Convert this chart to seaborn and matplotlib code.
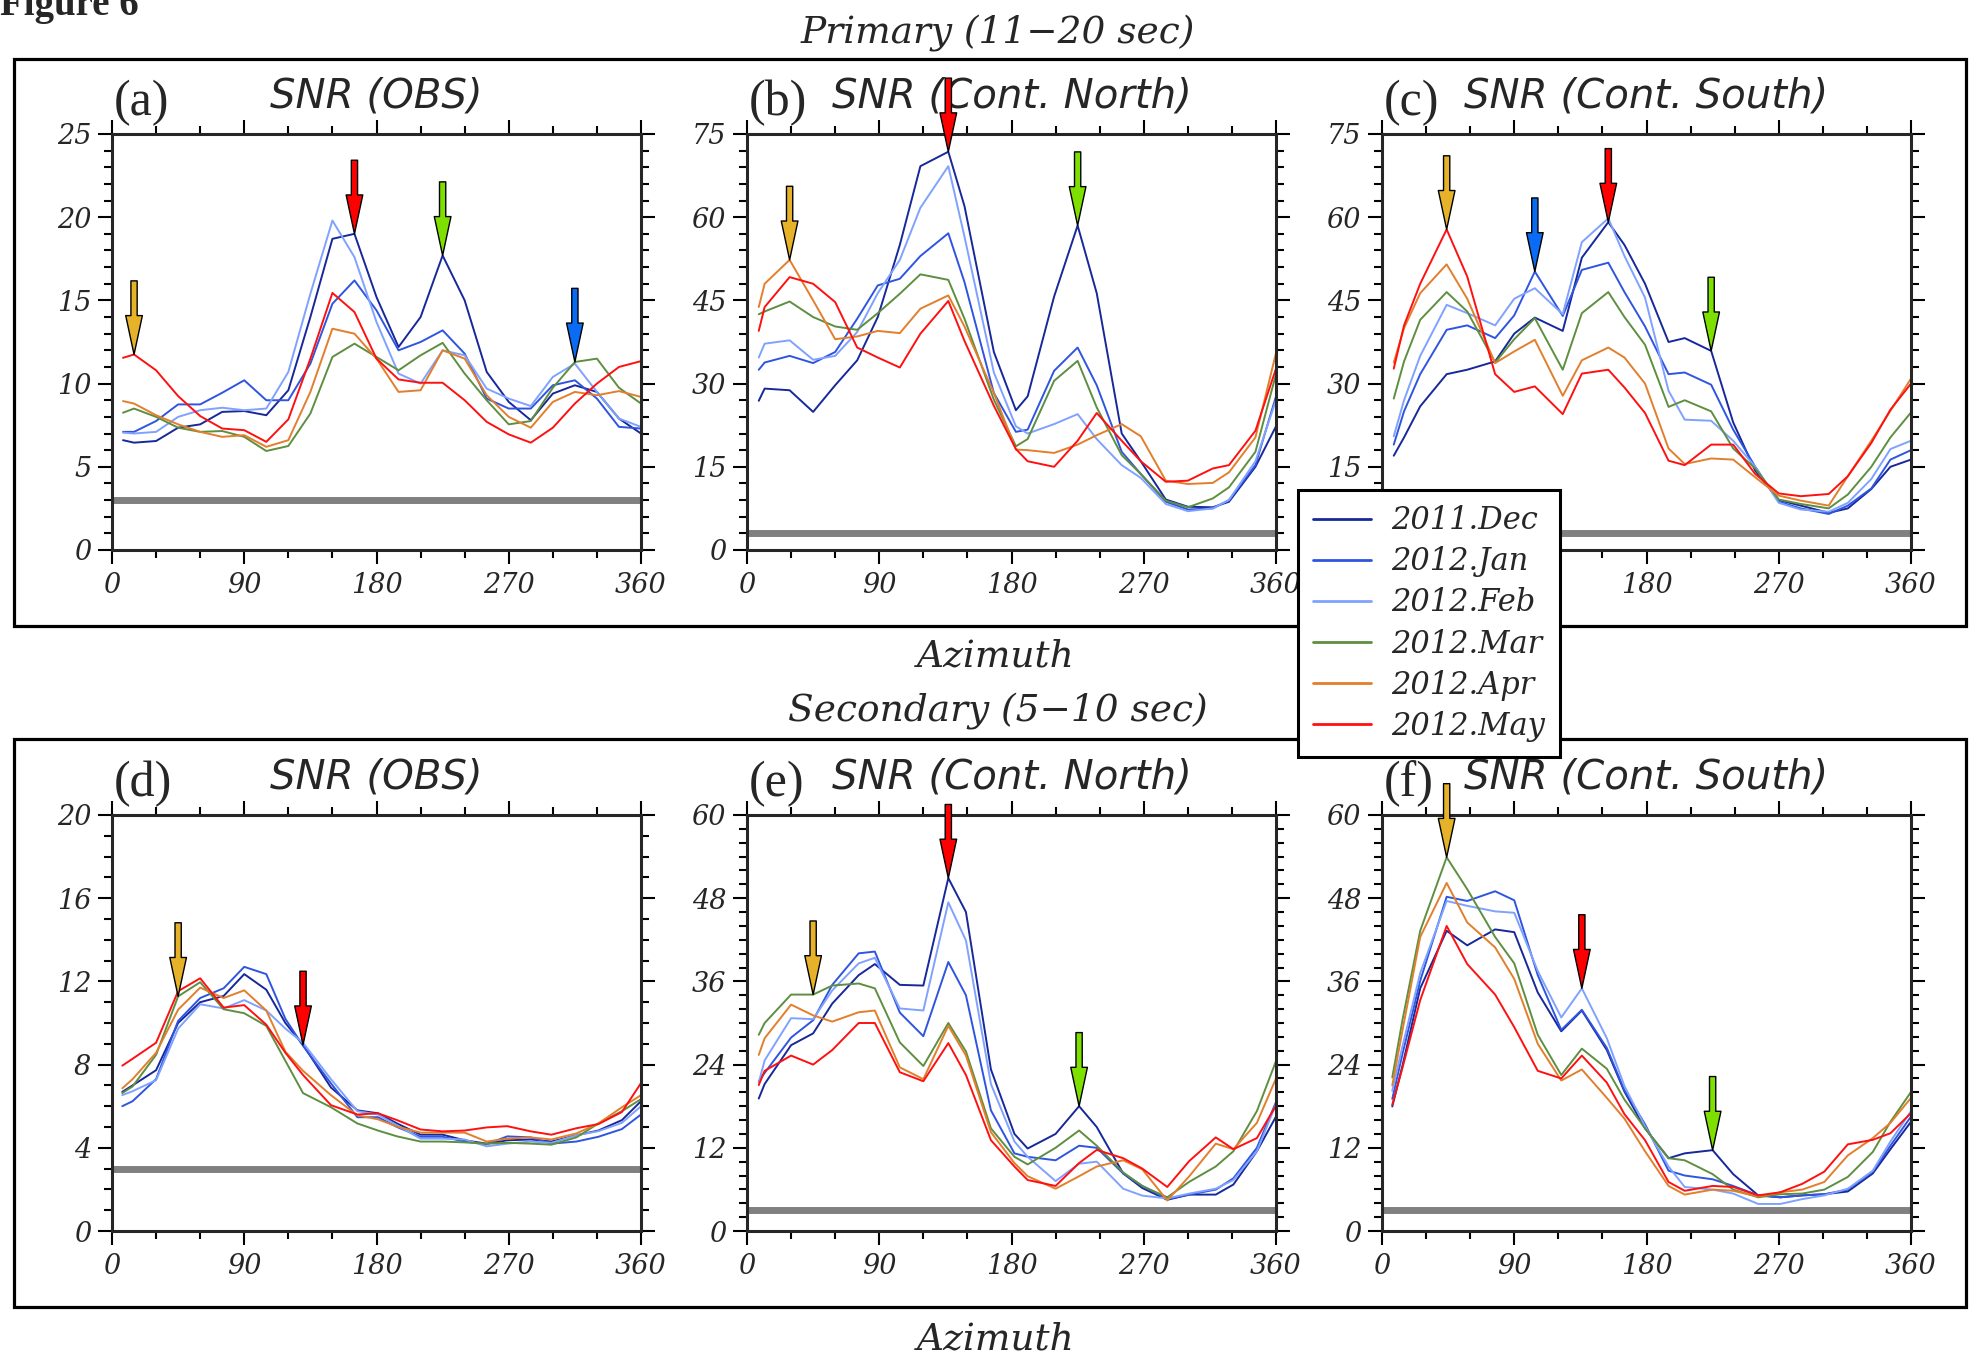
import numpy as np
import pandas as pd
import matplotlib
matplotlib.use("Agg")
import matplotlib.pyplot as plt
import seaborn as sns
from matplotlib.lines import Line2D
from matplotlib.patches import Rectangle
from matplotlib.ticker import MultipleLocator

# ---------------- data ----------------
months = ["2011.Dec", "2012.Jan", "2012.Feb", "2012.Mar", "2012.Apr", "2012.May"]
month_colors = ["#16289a", "#2f55e0", "#80a2ff", "#5e8f40", "#e27f2c", "#ff1010"]
snr_threshold = 3

# (a) Primary, OBS
az_a = [7.5, 15, 30, 45, 60, 75, 90, 105, 120, 135, 150, 165, 180, 195, 210, 225, 240, 255, 270, 285, 300, 315, 330, 345, 360]
a_dec = [6.6, 6.45, 6.55, 7.35, 7.55, 8.3, 8.35, 8.1, 9.6, 14.0, 18.7, 19.0, 15.2, 12.2, 14.0, 17.7, 15.0, 10.7, 8.9, 7.8, 9.4, 9.9, 9.5, 7.9, 7.0]
a_jan = [7.1, 7.1, 7.75, 8.75, 8.75, 9.45, 10.2, 9.0, 9.0, 11.2, 14.8, 16.2, 14.4, 12.0, 12.5, 13.2, 11.8, 9.1, 8.5, 8.5, 9.9, 10.2, 9.1, 7.4, 7.3]
a_feb = [7.05, 7.0, 7.1, 8.0, 8.4, 8.55, 8.4, 8.5, 10.7, 15.4, 19.8, 17.6, 13.7, 10.6, 10.0, 12.0, 11.7, 9.7, 9.1, 8.65, 10.4, 11.2, 9.5, 7.9, 7.4]
a_mar = [8.25, 8.5, 8.0, 7.35, 7.1, 7.15, 6.8, 5.95, 6.25, 8.2, 11.6, 12.4, 11.6, 10.8, 11.7, 12.45, 10.6, 9.0, 7.55, 7.75, 9.75, 11.3, 11.5, 9.75, 8.8]
a_apr = [8.95, 8.8, 8.1, 7.55, 7.1, 6.8, 6.9, 6.2, 6.6, 9.5, 13.3, 13.0, 11.5, 9.5, 9.6, 12.0, 11.5, 9.3, 8.0, 7.35, 8.9, 9.5, 9.3, 9.55, 9.2]
a_may = [11.55, 11.75, 10.8, 9.25, 8.05, 7.3, 7.2, 6.5, 7.85, 11.5, 15.45, 14.3, 11.5, 10.25, 10.05, 10.05, 9.0, 7.7, 6.95, 6.45, 7.35, 8.8, 10.0, 11.0, 11.35]

# (b) Primary, Cont. North
az_b = [8, 12, 29, 45, 60, 75, 89, 104, 118, 137, 148, 168, 183, 191, 209, 225, 238, 255, 268, 285, 300, 317, 328, 346, 360]
b_dec = [26.9, 29.1, 28.8, 24.9, 29.7, 34.2, 42.0, 55.0, 69.2, 71.8, 62.0, 35.7, 25.2, 27.7, 45.7, 58.5, 46.3, 21.0, 16.0, 9.1, 7.8, 7.7, 8.7, 15.0, 22.3]
b_jan = [32.5, 33.8, 35.0, 33.7, 35.7, 41.7, 47.7, 48.9, 53.0, 57.1, 48.3, 28.3, 21.3, 21.7, 32.3, 36.5, 29.7, 17.7, 13.7, 8.7, 7.3, 7.5, 9.0, 15.3, 27.7]
b_feb = [34.7, 37.2, 37.8, 34.3, 35.0, 39.3, 46.3, 52.3, 61.7, 69.2, 56.5, 32.0, 22.3, 21.0, 22.7, 24.5, 20.0, 15.3, 13.0, 8.3, 7.0, 7.5, 9.0, 16.0, 27.0]
b_mar = [42.5, 43.0, 44.8, 42.0, 40.3, 39.7, 42.7, 46.2, 49.7, 48.7, 41.7, 27.1, 18.7, 20.0, 30.5, 34.1, 25.7, 17.1, 13.7, 8.9, 7.7, 9.3, 11.3, 17.7, 31.7]
b_apr = [43.8, 48.0, 52.3, 45.0, 38.0, 38.5, 39.5, 39.1, 43.5, 45.9, 40.3, 28.3, 18.1, 18.0, 17.5, 19.0, 20.7, 22.7, 20.5, 12.5, 11.9, 12.1, 14.0, 20.3, 35.5]
b_may = [39.5, 43.8, 49.2, 48.0, 44.7, 36.5, 34.7, 32.9, 39.0, 44.9, 37.7, 26.0, 18.2, 16.0, 15.0, 19.7, 24.7, 19.7, 16.0, 12.3, 12.5, 14.7, 15.3, 21.5, 32.7]

# (c) Primary, Cont. South
az_c = [8, 15, 26, 44, 58, 77, 90, 104, 123, 136, 154, 165, 179, 195, 206, 224, 239, 254, 270, 285, 304, 317, 333, 346, 360]
c_dec = [17.0, 20.3, 25.9, 31.7, 32.5, 34.0, 39.0, 41.9, 39.5, 52.7, 59.1, 55.0, 48.0, 37.5, 38.2, 35.9, 23.0, 14.3, 9.0, 8.0, 6.7, 7.5, 11.0, 15.0, 16.3]
c_jan = [19.0, 25.0, 31.7, 39.7, 40.5, 38.2, 42.3, 50.2, 42.2, 50.5, 51.8, 46.5, 40.3, 31.7, 32.0, 29.8, 21.7, 15.0, 8.7, 7.5, 6.5, 8.0, 11.1, 16.3, 18.0]
c_feb = [20.5, 27.0, 35.0, 44.2, 42.7, 40.5, 45.3, 47.2, 42.5, 55.5, 59.8, 53.0, 45.5, 28.7, 23.5, 23.3, 19.7, 15.0, 8.5, 7.3, 6.9, 8.5, 12.8, 18.2, 19.7]
c_mar = [27.3, 34.0, 41.5, 46.5, 43.0, 33.8, 38.0, 41.8, 32.5, 42.7, 46.5, 42.0, 37.0, 25.8, 27.0, 25.0, 18.3, 14.7, 9.1, 8.3, 7.5, 10.0, 15.0, 20.3, 24.8]
c_apr = [33.8, 40.0, 46.3, 51.5, 45.3, 33.7, 35.8, 37.9, 27.8, 34.2, 36.5, 34.7, 30.0, 18.3, 15.5, 16.5, 16.3, 13.1, 9.8, 8.9, 8.0, 13.3, 19.7, 25.1, 30.9]
c_may = [32.7, 40.5, 48.0, 57.8, 49.3, 31.7, 28.5, 29.5, 24.5, 31.8, 32.5, 29.3, 24.7, 16.1, 15.3, 19.0, 19.0, 13.7, 10.2, 9.7, 10.1, 13.3, 19.3, 25.3, 30.0]

# (d) Secondary, OBS
az_d = [7, 14, 30, 45, 60, 76, 90, 105, 118, 130, 149, 167, 181, 194, 210, 225, 240, 255, 269, 285, 299, 316, 331, 347, 360]
d_dec = [6.69, 7.0, 7.73, 10.0, 11.0, 11.3, 12.35, 11.6, 10.0, 8.95, 6.9, 5.8, 5.66, 5.17, 4.63, 4.63, 4.36, 4.2, 4.36, 4.4, 4.3, 4.6, 4.83, 5.33, 6.24]
d_jan = [6.0, 6.24, 7.3, 10.1, 11.2, 11.67, 12.7, 12.35, 10.2, 8.9, 7.1, 5.47, 5.47, 5.0, 4.53, 4.53, 4.3, 4.17, 4.55, 4.5, 4.2, 4.3, 4.53, 4.9, 5.6]
d_feb = [6.53, 6.72, 7.25, 9.73, 10.9, 10.7, 11.1, 10.6, 9.73, 9.05, 7.3, 5.76, 5.6, 5.08, 4.44, 4.44, 4.4, 4.07, 4.2, 4.3, 4.24, 4.6, 4.8, 5.2, 6.0]
d_mar = [6.63, 6.95, 8.47, 11.28, 11.96, 10.66, 10.47, 9.86, 8.18, 6.63, 5.95, 5.17, 4.83, 4.55, 4.3, 4.3, 4.26, 4.2, 4.24, 4.2, 4.15, 4.5, 5.17, 5.76, 6.34]
d_apr = [6.86, 7.3, 8.57, 10.64, 11.7, 11.2, 11.57, 10.6, 8.62, 7.7, 6.53, 5.56, 5.37, 5.02, 4.73, 4.73, 4.73, 4.3, 4.44, 4.5, 4.4, 4.69, 5.17, 5.95, 6.53]
d_may = [7.95, 8.28, 9.05, 11.53, 12.15, 10.74, 10.86, 9.92, 8.57, 7.5, 6.05, 5.6, 5.66, 5.33, 4.88, 4.79, 4.83, 4.98, 5.04, 4.79, 4.63, 4.94, 5.14, 5.72, 7.11]

# (e) Secondary, Cont. North
az_e = [8, 12, 30, 45, 58, 76, 87, 104, 120, 137, 149, 166, 182, 191, 210, 226, 238, 256, 269, 286, 301, 319, 331, 347, 360]
e_dec = [19.1, 21.2, 26.8, 28.5, 32.8, 36.9, 38.5, 35.5, 35.4, 50.9, 46.0, 23.3, 14.0, 11.9, 14.0, 18.0, 15.0, 8.3, 6.2, 4.5, 5.25, 5.25, 6.7, 11.5, 16.5]
e_jan = [21.6, 22.8, 27.9, 30.4, 35.5, 40.05, 40.3, 31.5, 28.1, 38.8, 34.0, 17.4, 11.2, 10.7, 10.2, 12.3, 12.0, 8.3, 6.5, 4.6, 5.25, 5.97, 7.6, 12.0, 18.6]
e_feb = [21.4, 24.6, 30.7, 30.55, 34.7, 38.6, 39.4, 32.1, 31.8, 47.4, 41.9, 21.2, 12.9, 10.7, 7.2, 9.7, 10.0, 6.1, 5.1, 4.7, 5.4, 6.1, 7.35, 11.5, 18.3]
e_mar = [28.3, 30.0, 34.1, 34.1, 35.4, 35.7, 35.0, 27.2, 23.8, 30.0, 25.9, 14.8, 10.7, 9.6, 12.0, 14.5, 12.3, 8.45, 6.5, 4.86, 7.1, 9.3, 11.5, 17.3, 24.5]
e_apr = [25.4, 27.8, 32.65, 31.1, 30.2, 31.55, 31.8, 23.6, 21.9, 29.6, 25.3, 14.25, 9.8, 7.9, 6.1, 7.9, 9.3, 10.2, 8.9, 4.4, 7.9, 12.6, 11.8, 15.6, 22.0]
e_may = [21.05, 23.1, 25.3, 24.0, 26.1, 30.0, 30.0, 22.9, 21.6, 27.1, 22.5, 13.1, 9.3, 7.35, 6.5, 9.8, 11.7, 10.5, 9.0, 6.35, 10.1, 13.5, 11.8, 13.4, 18.1]

# (f) Secondary, Cont. South
az_f = [7, 14, 26, 44, 58, 77, 90, 106, 122, 136, 153, 165, 179, 195, 206, 225, 239, 256, 271, 286, 301, 317, 334, 346, 360]
f_dec = [17.96, 23.9, 35.0, 43.3, 41.2, 43.5, 43.1, 34.4, 28.8, 31.8, 26.1, 20.1, 14.8, 10.5, 11.2, 11.66, 8.2, 5.14, 4.86, 5.14, 5.3, 5.7, 8.3, 11.8, 15.75]
f_jan = [19.06, 25.6, 36.1, 48.2, 47.6, 49.0, 47.7, 36.9, 29.0, 31.9, 26.4, 20.3, 15.4, 8.7, 8.0, 7.46, 6.5, 5.14, 4.86, 5.14, 5.3, 5.97, 8.56, 12.3, 16.5]
f_feb = [20.2, 26.7, 37.2, 47.6, 46.9, 46.1, 45.9, 37.5, 30.8, 35.0, 27.8, 20.9, 15.1, 9.3, 6.35, 5.97, 5.4, 3.9, 3.9, 4.6, 5.14, 6.1, 8.7, 12.9, 17.3]
f_mar = [22.15, 30.5, 43.3, 53.9, 49.3, 42.4, 38.6, 28.3, 22.5, 26.3, 23.4, 18.95, 14.8, 10.5, 10.2, 8.2, 5.97, 4.86, 5.3, 5.4, 5.97, 7.8, 11.4, 15.75, 20.05]
f_apr = [21.0, 29.0, 42.4, 50.2, 44.5, 40.9, 36.35, 27.0, 21.7, 23.3, 19.2, 16.2, 11.5, 6.5, 5.25, 5.97, 5.8, 4.97, 5.58, 5.97, 7.07, 10.9, 13.4, 15.6, 19.2]
f_may = [18.2, 23.6, 33.3, 44.0, 38.5, 34.1, 29.4, 23.1, 22.0, 25.3, 21.4, 16.85, 13.1, 7.07, 5.8, 6.5, 6.35, 5.14, 5.58, 6.8, 8.56, 12.5, 13.15, 14.1, 17.0]

panel_letters = ["(a)", "(b)", "(c)", "(d)", "(e)", "(f)"]
panel_titles = ["SNR (OBS)", "SNR (Cont. North)", "SNR (Cont. South)",
                "SNR (OBS)", "SNR (Cont. North)", "SNR (Cont. South)"]
panel_az = [az_a, az_b, az_c, az_d, az_e, az_f]
panel_series = [
    [a_dec, a_jan, a_feb, a_mar, a_apr, a_may],
    [b_dec, b_jan, b_feb, b_mar, b_apr, b_may],
    [c_dec, c_jan, c_feb, c_mar, c_apr, c_may],
    [d_dec, d_jan, d_feb, d_mar, d_apr, d_may],
    [e_dec, e_jan, e_feb, e_mar, e_apr, e_may],
    [f_dec, f_jan, f_feb, f_mar, f_apr, f_may],
]
panel_ymax = [25, 75, 75, 20, 60, 60]
panel_ymajor = [5, 15, 15, 4, 12, 12]
panel_yminor = [1, 3, 3, 1, 2, 2]

# arrows: (series index, point index, colour)
GOLD, RED, GREEN, BLUE = "#e6b22a", "#ff0000", "#7ee000", "#0a6cf5"
panel_arrows = [
    [(5, 1, GOLD), (0, 11, RED), (0, 15, GREEN), (3, 21, BLUE)],
    [(4, 2, GOLD), (0, 9, RED), (0, 15, GREEN)],
    [(5, 3, GOLD), (1, 7, BLUE), (0, 10, RED), (0, 15, GREEN)],
    [(3, 3, GOLD), (0, 9, RED)],
    [(3, 3, GOLD), (0, 9, RED), (0, 15, GREEN)],
    [(3, 3, GOLD), (2, 9, RED), (0, 15, GREEN)],
]

# ---------------- styling ----------------
sns.set_style("ticks")
plt.rcParams["font.family"] = ["DejaVu Serif", "DejaVu Sans"]
plt.rcParams["axes.linewidth"] = 2.2

W, H = 1969, 1352
fig = plt.figure(figsize=(W / 100, H / 100), dpi=100)
fig.patch.set_facecolor("white")

def fx(px):
    return px / W

def fy(py):
    return 1 - py / H

# outer frames
for top, bot in [(59, 626), (739, 1307)]:
    fig.patches.append(Rectangle((fx(14), fy(bot)), fx(1966) - fx(14), fy(top) - fy(bot),
                                 transform=fig.transFigure, fill=False, lw=2.3,
                                 ec="black", zorder=0))

col_left = [112, 747, 1382]
row_top = [134, 815]
ax_w, ax_h = 529, 416
palette = dict(zip(months, month_colors))

for i in range(6):
    r, c = divmod(i, 3)
    left, top = col_left[c], row_top[r]
    ax = fig.add_axes([fx(left), fy(top + ax_h), ax_w / W, ax_h / H])
    az = panel_az[i]
    rows = []
    for m, vals in zip(months, panel_series[i]):
        for x, v in zip(az, vals):
            rows.append((x, v, m))
    df = pd.DataFrame(rows, columns=["azimuth", "snr", "month"])
    ax.axhline(snr_threshold, color="#808080", lw=5, zorder=1, solid_capstyle="butt")
    sns.lineplot(data=df, x="azimuth", y="snr", hue="month", hue_order=months,
                 palette=palette, estimator=None, sort=False, lw=1.4,
                 legend=False, ax=ax, zorder=2)
    ax.set_xlim(0, 360)
    ax.set_ylim(0, panel_ymax[i])
    ax.xaxis.set_major_locator(MultipleLocator(90))
    ax.xaxis.set_minor_locator(MultipleLocator(30))
    ax.yaxis.set_major_locator(MultipleLocator(panel_ymajor[i]))
    ax.yaxis.set_minor_locator(MultipleLocator(panel_yminor[i]))
    ax.tick_params(which="both", direction="out", top=True, right=True,
                   labeltop=False, labelright=False, width=1.5, color="black")
    ax.tick_params(which="major", length=10)
    ax.tick_params(which="minor", length=6)
    ax.tick_params(axis="y", which="major", pad=5)
    ax.tick_params(axis="x", which="major", pad=6)
    for lab in ax.get_xticklabels() + ax.get_yticklabels():
        lab.set_fontfamily("DejaVu Serif")
        lab.set_fontstyle("italic")
        lab.set_fontsize(19.5)
    ax.set_xlabel("")
    ax.set_ylabel("")
    for sp in ax.spines.values():
        sp.set_linewidth(2.2)
        sp.set_zorder(3)
    ax.annotate(panel_titles[i], xy=(0.5, 1), xycoords="axes fraction",
                xytext=(0, 19), textcoords="offset points", ha="center",
                va="baseline", fontsize=29, family="DejaVu Sans", style="oblique")
    ax.annotate(panel_letters[i], xy=(0, 1), xycoords="axes fraction",
                xytext=(1, 13.5), textcoords="offset points", ha="left",
                va="baseline", fontsize=36, family="Liberation Serif")
    for s_idx, p_idx, col in panel_arrows[i]:
        xt = az[p_idx]
        yt = panel_series[i][s_idx][p_idx]
        ax.annotate("", xy=(xt, yt), xycoords="data", xytext=(0, 53),
                    textcoords="offset points", annotation_clip=False,
                    arrowprops=dict(arrowstyle="simple,head_length=2.8,head_width=1.2,tail_width=0.45",
                                    fc=col, ec="black", lw=1.0, shrinkA=0, shrinkB=0,
                                    mutation_scale=10),
                    zorder=6)

# figure texts
fig.text(fx(0), fy(15), "Figure 6", family="Liberation Serif", weight="bold",
         fontsize=28, ha="left", va="baseline")
ital = dict(family="DejaVu Serif", style="italic", fontsize=27, ha="center", va="baseline")
fig.text(fx(998), fy(43), "Primary (11\u221220 sec)", **ital)
fig.text(fx(996), fy(667), "Azimuth", **ital)
fig.text(fx(998), fy(721), "Secondary (5\u221210 sec)", **ital)
fig.text(fx(996), fy(1349), "Azimuth", **ital)

# legend
handles = [Line2D([], [], color=c, lw=2.0) for c in month_colors]
leg = fig.legend(handles, months, loc="upper left",
                 bbox_to_anchor=(fx(1298), fy(490)), bbox_transform=fig.transFigure,
                 frameon=True, fancybox=False, edgecolor="black", framealpha=1,
                 prop={"family": "DejaVu Serif", "style": "italic", "size": 22},
                 handlelength=1.9, handletextpad=0.65, labelspacing=0.33,
                 borderpad=0.5, borderaxespad=0)
leg.get_frame().set_linewidth(2.2)
leg.set_zorder(10)

fig.savefig("out.png", dpi=100, facecolor="white")
